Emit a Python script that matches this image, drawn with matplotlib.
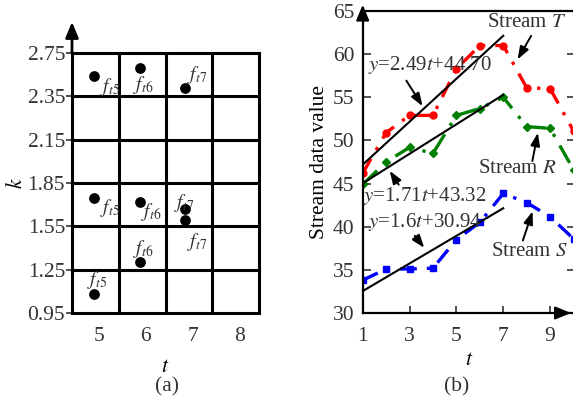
import numpy as np
import matplotlib
matplotlib.use('Agg')
import matplotlib.pyplot as plt

plt.rcParams['font.family'] = ['Liberation Serif', 'DejaVu Serif']
plt.rcParams['mathtext.fontset'] = 'stix'
plt.rcParams['font.size'] = 15.5
plt.rcParams['text.color'] = '#333333'
plt.rcParams['xtick.color'] = '#333333'
plt.rcParams['ytick.color'] = '#333333'

# (a) feature points per time step
k_ticks = [0.95, 1.25, 1.55, 1.85, 2.15, 2.35, 2.75]
t_cells = [5, 6, 7, 8]
pt_t = [4.97, 5.95, 6.92, 4.97, 5.95, 6.92, 6.92, 5.95, 4.97]
pt_k = [2.54, 2.61, 2.43, 1.745, 1.72, 1.67, 1.595, 1.30, 1.08]
pt_lab = ['$f_{t5}$', '$f_{t6}$', '$f_{t7}$', '$f_{t5}$', '$f_{t6}$',
          '$f_{t7}$', '$f_{t7}$', '$f_{t6}$', '$f_{t5}$']
# label offsets in points relative to each dot
lab_off = [(4, -8), (-5, -12), (1, 9), (4, -7), (1, -7), (-8, 4), (1, -16), (-5, 10), (-5, 10)]

# (b) stream data
t = np.arange(1, 11)
stream_T = [46.2, 50.9, 52.9, 52.9, 58.3, 61.0, 61.0, 56.1, 56.0, 51.1]
stream_R = [44.9, 47.5, 49.2, 48.5, 52.9, 53.7, 55.0, 51.6, 51.4, 46.6]
stream_S = [33.8, 35.1, 35.1, 35.2, 38.5, 40.5, 43.85, 42.8, 41.15, 38.6]
fits = [(2.49, 44.70), (1.71, 43.32), (1.6, 30.94)]

fig = plt.figure(figsize=(5.73, 4.01), dpi=100)

# ---------- panel (a) ----------
ax1 = fig.add_axes([72 / 573, 88 / 401, 187 / 573, 260 / 401])
ax1.set_xlim(4.5, 8.5)
ax1.set_ylim(0, len(k_ticks) - 1)
for y in range(len(k_ticks)):
    ax1.axhline(y, color='black', lw=2.2, clip_on=False)
for x in np.arange(4.5, 8.6, 1.0):
    ax1.axvline(x, color='black', lw=2.2, clip_on=False)
for s in ax1.spines.values():
    s.set_visible(False)

ky = np.interp(pt_k, k_ticks, np.arange(len(k_ticks)))
ax1.scatter(pt_t, ky, s=45, color='black', zorder=3)
for x, y, lab, off in zip(pt_t, ky, pt_lab, lab_off):
    ax1.annotate(lab, (x, y), xytext=off, textcoords='offset points',
                 fontsize=14, ha='left', va='center')

ax1.set_yticks(range(len(k_ticks)))
ax1.set_yticklabels([f'{v:.2f}' for v in k_ticks])
ax1.set_xticks([v + 0.08 for v in t_cells])
ax1.set_xticklabels([str(v) for v in t_cells])
ax1.tick_params(axis='y', direction='out', length=4, width=1.2, pad=1)
ax1.tick_params(axis='x', length=0, pad=10)
ax1.set_xlabel('$t$', labelpad=9)
ax1.set_ylabel('$k$', labelpad=0)
ax1.annotate('', xy=(0, 1.13), xytext=(0, 0.99), xycoords='axes fraction',
             arrowprops=dict(arrowstyle='-|>,head_length=0.6,head_width=0.25',
                             color='black', lw=2))
fig.text(167 / 573, 1 - 387 / 401, '(a)', ha='center', va='center')

# ---------- panel (b) ----------
ax2 = fig.add_axes([362.7 / 573, 88 / 401, 212 / 573, 302 / 401])
ax2.set_xlim(1, 10.05)
ax2.set_ylim(30, 65)
ax2.plot(t, stream_T, color='red', lw=2.4, ls=(0, (5, 3, 1, 3)),
         marker='o', ms=5, zorder=2)
ax2.plot(t, stream_R, color='green', lw=2.4, ls=(0, (6, 3, 1, 3)),
         marker='D', ms=4, zorder=2)
ax2.plot(t, stream_S, color='blue', lw=2.4, ls=(0, (5, 3, 1, 3)),
         marker='s', ms=4, zorder=2)
tf = np.array([1, 7])
for a, b in fits:
    ax2.plot(tf, a * tf + b, color='black', lw=1.5, zorder=3)

ax2.set_xticks([1, 3, 5, 7, 9])
ax2.set_yticks(range(30, 66, 5))
ax2.tick_params(direction='in', length=6, width=1.2, right=True, pad=6)
ax2.tick_params(axis='x', length=5, pad=10)
for s in ax2.spines.values():
    s.set_linewidth(1.6)
ax2.set_xlabel('$t$', labelpad=4)
ax2.set_ylabel('Stream data value', labelpad=3)
ax2.annotate('', xy=(0, 1.03), xytext=(0, 0.97), xycoords='axes fraction',
             arrowprops=dict(arrowstyle='-|>,head_length=0.6,head_width=0.25',
                             color='black', lw=1.6))
ax2.annotate('', xy=(0.995, 0), xytext=(0.95, 0), xycoords='axes fraction',
             arrowprops=dict(arrowstyle='-|>,head_length=0.6,head_width=0.25',
                             color='black', lw=1.6))

arrow = dict(arrowstyle='-|>,head_length=0.5,head_width=0.18', color='black', lw=1.4)
notes = [
    ('Stream $T$', (7.55, 59.1), (8.25, 62.4), (8.0, 63.7)),
    ('$y$=2.49$t$+44.70', (3.62, 53.7), (2.8, 57.2), (3.88, 58.7)),
    ('$y$=1.71$t$+43.32', (2.09, 46.75), (2.6, 44.6), (3.64, 43.6)),
    ('$y$=1.6$t$+30.94', (3.7, 37.3), (3.15, 39.2), (3.64, 40.6)),
    ('Stream $R$', (8.5, 51.2), (8.22, 47.3), (7.62, 46.8)),
    ('Stream $S$', (8.29, 42.1), (7.8, 38.1), (8.12, 37.1)),
]
for txt, tip, tail, pos in notes:
    ax2.annotate('', xy=tip, xytext=tail, arrowprops=arrow, zorder=4)
    ax2.text(pos[0], pos[1], txt, ha='center', va='center', fontsize=15, zorder=5)

fig.text(456.7 / 573, 1 - 387 / 401, '(b)', ha='center', va='center')

fig.savefig('out.png', dpi=100)
